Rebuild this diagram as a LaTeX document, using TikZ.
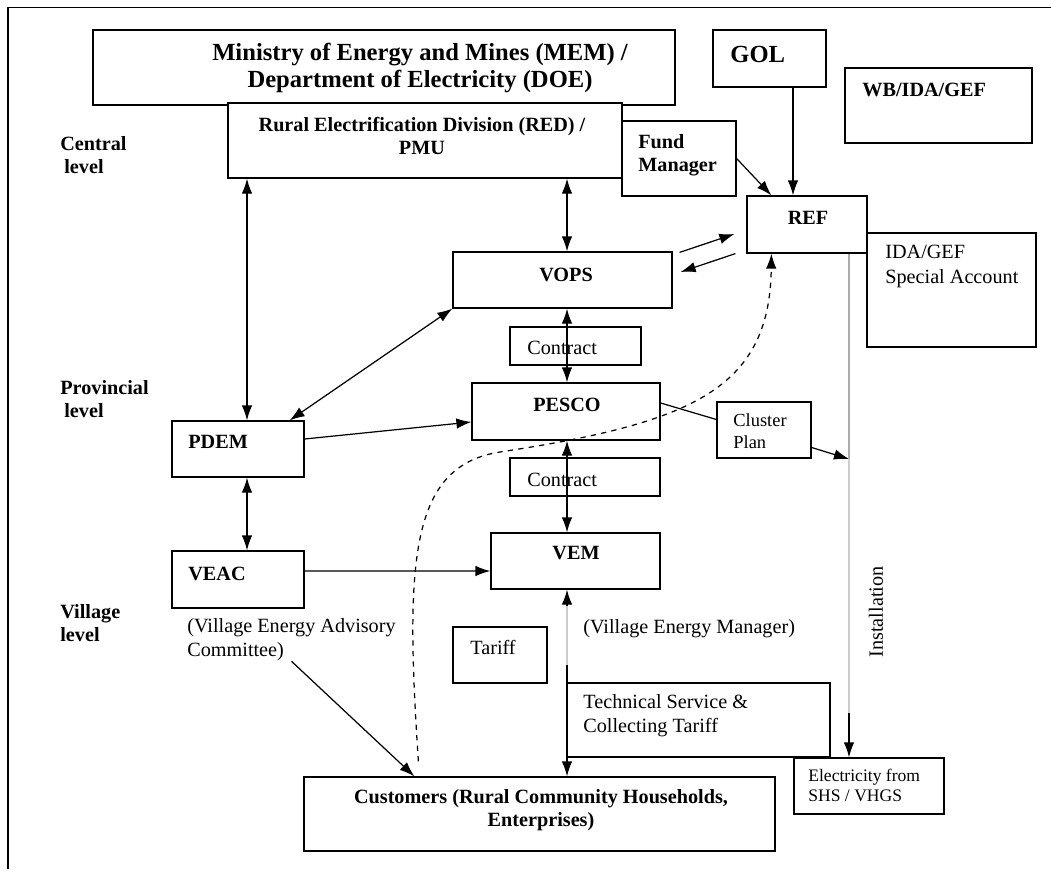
\documentclass[tikz,border=0pt]{standalone}
\usepackage{fontspec}
\setmainfont{Liberation Serif}
\usetikzlibrary{arrows.meta}

\begin{document}
\begin{tikzpicture}[
        box/.style={rectangle, draw=black, line width=0.7pt, inner sep=0pt},
        btxt/.style={font=\fontsize{11.5}{13}\selectfont\bfseries, align=left, inner sep=0pt},
        ntxt/.style={font=\fontsize{11.5}{14}\selectfont, align=left, inner sep=0pt},
        bigtxt/.style={font=\fontsize{14}{15.5}\selectfont\bfseries, align=center, inner sep=0pt},
        link/.style={-{Latex[length=3mm, width=2.1mm]}, line width=0.7pt},
        dlink/.style={{Latex[length=3mm, width=2.1mm]}-{Latex[length=3mm, width=2.1mm]}, line width=0.7pt},
        faint/.style={draw=gray!40, line width=0.8pt}
    ]

    \useasboundingbox (0,0) rectangle (21.02,-17.38);
    % page frame
    \draw[line width=0.7pt] (0.16,-17.38) -- (0.16,-0.15) -- (21.02,-0.15);

    % Boxes
    \node[box, minimum width=11.64cm, minimum height=1.5cm] (mem) at (7.68,-1.35) {};
    \node[box, minimum width=2.26cm, minimum height=1.14cm] (gol) at (15.39,-1.17) {};
    \node[box, minimum width=3.74cm, minimum height=1.5cm] (wb) at (18.77,-2.11) {};
    \node[box, fill=white, minimum width=7.88cm, minimum height=1.5cm] (red) at (8.5,-2.81) {};
    \node[box, minimum width=2.28cm, minimum height=1.5cm] (fund) at (13.58,-3.17) {};
    \node[box, minimum width=2.4cm, minimum height=1.14cm] (ref) at (16.14,-4.49) {};
    \node[box, minimum width=3.38cm, minimum height=2.28cm] (ida) at (19.03,-5.8) {};
    \node[box, minimum width=4.38cm, minimum height=1.12cm] (vops) at (11.25,-5.6) {};
    \node[box, minimum width=2.62cm, minimum height=0.76cm] (con1) at (11.51,-6.92) {};
    \node[box, minimum width=3.76cm, minimum height=1.14cm] (pesco) at (11.32,-8.23) {};
    \node[box, minimum width=1.88cm, minimum height=1.12cm] (cluster) at (15.28,-8.6) {};
    \node[box, minimum width=2.64cm, minimum height=1.12cm] (pdem) at (4.76,-8.98) {};
    \node[box, minimum width=3.0cm, minimum height=0.76cm] (con2) at (11.7,-9.54) {};
    \node[box, minimum width=3.38cm, minimum height=1.12cm] (vem) at (11.51,-11.22) {};
    \node[box, minimum width=2.64cm, minimum height=1.14cm] (veac) at (4.76,-11.59) {};
    \node[box, minimum width=1.88cm, minimum height=1.12cm] (tariff) at (10.0,-13.1) {};
    \node[box, minimum width=5.26cm, minimum height=1.48cm] (tech) at (13.97,-14.4) {};
    \node[box, minimum width=3.0cm, minimum height=1.12cm] (elec) at (17.38,-15.72) {};
    \node[box, minimum width=9.42cm, minimum height=1.48cm] (cust) at (10.79,-16.28) {};

    % Texts
    \node[bigtxt] (mem-t) at (8.4,-1.36) {Ministry of Energy and Mines (MEM) /\\Department of Electricity (DOE)};
    \node[bigtxt, anchor=west] (gol-t) at (14.6,-1.08) {GOL};
    \node[btxt, anchor=west] (wb-t) at (17.24,-1.8) {WB/IDA/GEF};
    \node[btxt, align=center] (red-t) at (8.44,-2.72) {Rural Electrification Division (RED) /\\PMU};
    \node[btxt, anchor=west] (fund-t) at (12.76,-3.1) {Fund\\Manager};
    \node[btxt] (ref-t) at (16.16,-4.36) {REF};
    \node[ntxt, anchor=west] (ida-t) at (17.7,-5.33) {IDA/GEF\\Special Account};
    \node[btxt] (vops-t) at (11.32,-5.5) {VOPS};
    \node[ntxt, anchor=west] (con1-t) at (10.54,-6.96) {Contract};
    \node[btxt] (pesco-t) at (11.34,-8.1) {PESCO};
    \node[ntxt, anchor=west, font=\fontsize{10.5}{12.5}\selectfont] (cluster-t) at (14.66,-8.63) {Cluster\\Plan};
    \node[btxt, anchor=west] (pdem-t) at (3.76,-8.84) {PDEM};
    \node[ntxt, anchor=west] (con2-t) at (10.54,-9.6) {Contract};
    \node[btxt] (vem-t) at (11.52,-11.06) {VEM};
    \node[btxt, anchor=west] (veac-t) at (3.76,-11.48) {VEAC};
    \node[ntxt, anchor=west] (veac-c) at (3.74,-12.79) {(Village Energy Advisory\\Committee)};
    \node[ntxt, anchor=west] (tariff-t) at (9.4,-12.94) {Tariff};
    \node[ntxt, anchor=west] (vem-c) at (11.66,-12.58) {(Village Energy Manager)};
    \node[ntxt, anchor=west] (tech-t) at (11.66,-14.31) {Technical Service \&\\Collecting Tariff};
    \node[ntxt, anchor=west, font=\fontsize{10}{11}\selectfont] (elec-t) at (16.16,-15.71) {Electricity from\\SHS / VHGS};
    \node[btxt, align=center] (cust-t) at (10.82,-16.2) {Customers (Rural Community Households,\\Enterprises)};
    \node[ntxt, rotate=90] (inst-t) at (17.52,-12.24) {Installation};

    % Levels
    \node[btxt, anchor=west] (central) at (1.2,-3.1) {Central\\\hspace{0.08cm}level};
    \node[btxt, anchor=west] (prov) at (1.2,-7.98) {Provincial\\\hspace{0.08cm}level};
    \node[btxt, anchor=west] (vill) at (1.2,-12.47) {Village\\level};

    % Helper points
    \coordinate (lft) at (4.94,0);
    \coordinate (mid) at (11.34,0);
    \coordinate (gx) at (15.86,0);
    \coordinate (inst) at (16.98,-9.18);
    \coordinate (ibrk) at (16.98,-14.26);
    \coordinate (vbtop) at (11.34,-12.12);
    \coordinate (vbrk) at (11.34,-13.3);

    % Edges
    \draw[dlink] (red.south -| lft) -- (pdem.north -| lft);
    \draw[dlink] (pdem.south -| lft) -- (veac.north -| lft);
    \draw[dlink] (red.south -| mid) -- (vops.north -| mid);
    \draw[dlink] (vops.south -| mid) -- (pesco.north -| mid);
    \draw[dlink] (pesco.south -| mid) -- (vem.north -| mid);
    \draw[dlink] (vem.south -| mid) -- (cust.north -| mid);
    \draw[faint] (vbtop) -- (vbrk);

    \draw[link] (gol.south -| gx) -- (ref.north -| gx);
    \draw[link] (fund.east) -- ([xshift=5mm]ref.north west);
    \draw[link] ([shift={(0.14,-0.02)}]vops.north east) -- ([shift={(-0.24,-0.19)}]ref.west);
    \draw[link] ([xshift=-2.2mm]ref.south west) -- ([shift={(0.16,0.16)}]vops.east);
    \draw[dlink] (vops.south west) -- ([xshift=-3mm]pdem.north east);
    \draw[link] ([yshift=2mm]pdem.east) -- ([yshift=-2.1mm]pesco.west);
    \draw[link] ([yshift=1.7mm]veac.east) -- ([yshift=-2mm]vem.west);

    \draw[line width=0.7pt] ([yshift=1.7mm]pesco.east) -- ([yshift=2.1mm]cluster.west);
    \draw[link] ([yshift=-3.5mm]cluster.east) -- (inst);
    \draw[link] (ref.south -| inst) -- (elec.north -| inst);
    \draw[draw=gray!65, line width=0.8pt] (ref.south -| inst) -- (inst);
    \draw[faint] (inst) -- (ibrk);

    \draw[link] (veac-c.south) -- ([xshift=2.22cm]cust.north west);
    \draw[link, dashed] ([shift={(2.3,0.3)}]cust.north west) .. controls (8.1,-11.2) and (8.2,-9.32) .. (10.0,-9.04)
        .. controls (13.8,-8.46) and (15.4,-7.8) .. ([xshift=5mm]ref.south west);

\end{tikzpicture}
\end{document}
